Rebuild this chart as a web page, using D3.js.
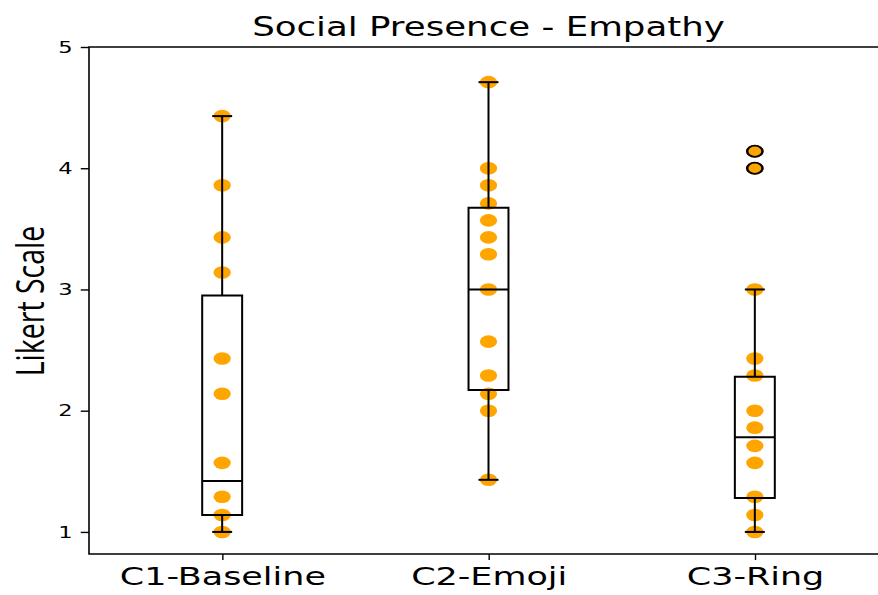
<!DOCTYPE html>
<html>
<head>
<meta charset="utf-8">
<script src="https://cdn.jsdelivr.net/npm/d3@7"></script>
<style>
  body { margin: 0; background: #fff; }
  svg { display: block; }
  .ax text { font-family: "DejaVu Sans", sans-serif; fill: #000; }
  line, rect, path { vector-effect: non-scaling-stroke; }
</style>
</head>
<body>
<svg class="chart"></svg>
<script>
var categories = ['C1-Baseline', 'C2-Emoji', 'C3-Ring'];

// individual responses
var pointsC1 = [4.43, 3.86, 3.43, 3.14, 2.43, 2.14, 1.57, 1.29, 1.14, 1.0];
var pointsC2 = [4.71, 4.0, 3.86, 3.71, 3.57, 3.43, 3.29, 3.0, 2.57, 2.29, 2.14, 2.0, 1.43];
var pointsC3 = [4.14, 4.0, 3.0, 2.43, 2.29, 2.0, 1.86, 1.71, 1.57, 1.29, 1.14, 1.0];

// box statistics per condition
var q1 = [1.14, 2.17, 1.28];
var median = [1.42, 3.0, 1.78];
var q3 = [2.95, 3.675, 2.28];
var whiskerLow = [1.0, 1.43, 1.0];
var whiskerHigh = [4.43, 4.71, 3.0];
var outliers = [[], [], [4.14, 4.0]];

var yTicks = [1, 2, 3, 4, 5];

var width = 878,
    height = 595;

// the reference is stretched sideways, so draw in a narrower space and scale x
let sx = 1.37;

var svg = d3.select('.chart')
    .attr('width', width)
    .attr('height', height);

var g = svg.append('g').attr('transform', `scale(${sx},1)`);

var x = d3.scaleLinear().domain([0.5, 3.5]).range([89 / sx, 888 / sx]);
var y = d3.scaleLinear().domain([0.818, 5]).range([554, 47]);

var groups = [pointsC1, pointsC2, pointsC3];

// scatter of responses
groups.forEach((pts, i) => {
    g.selectAll('circle.dot' + i)
        .data(pts)
        .enter().append('circle')
            .attr('class', 'dot' + i)
            .attr('cx', x(i + 1))
            .attr('cy', d => y(d))
            .attr('r', 6.3)
            .attr('fill', 'orange');
});

var boxW = 0.15,
    capW = 0.075;

var box = g.selectAll('g.box')
    .data(categories)
    .enter().append('g')
        .attr('class', 'box')
        .attr('stroke', '#000')
        .attr('stroke-width', 2)
        .attr('fill', 'none');

box.append('rect')
    .attr('x', (d, i) => x(i + 1 - boxW / 2))
    .attr('width', x(1 + boxW / 2) - x(1 - boxW / 2))
    .attr('y', (d, i) => y(q3[i]))
    .attr('height', (d, i) => y(q1[i]) - y(q3[i]));

box.append('line')
    .attr('x1', (d, i) => x(i + 1 - boxW / 2))
    .attr('x2', (d, i) => x(i + 1 + boxW / 2))
    .attr('y1', (d, i) => y(median[i]))
    .attr('y2', (d, i) => y(median[i]));

// whiskers
box.append('line')
    .attr('x1', (d, i) => x(i + 1)).attr('x2', (d, i) => x(i + 1))
    .attr('y1', (d, i) => y(q3[i])).attr('y2', (d, i) => y(whiskerHigh[i]));
box.append('line')
    .attr('x1', (d, i) => x(i + 1)).attr('x2', (d, i) => x(i + 1))
    .attr('y1', (d, i) => y(q1[i])).attr('y2', (d, i) => y(whiskerLow[i]));

// caps
box.append('line')
    .attr('x1', (d, i) => x(i + 1 - capW / 2)).attr('x2', (d, i) => x(i + 1 + capW / 2))
    .attr('y1', (d, i) => y(whiskerHigh[i])).attr('y2', (d, i) => y(whiskerHigh[i]));
box.append('line')
    .attr('x1', (d, i) => x(i + 1 - capW / 2)).attr('x2', (d, i) => x(i + 1 + capW / 2))
    .attr('y1', (d, i) => y(whiskerLow[i])).attr('y2', (d, i) => y(whiskerLow[i]));

// fliers
outliers.forEach((pts, i) => {
    g.selectAll('circle.flier' + i)
        .data(pts)
        .enter().append('circle')
            .attr('class', 'flier' + i)
            .attr('cx', x(i + 1))
            .attr('cy', d => y(d))
            .attr('r', 5.6)
            .attr('fill', 'none')
            .attr('stroke', '#000')
            .attr('stroke-width', 1.8);
});

// axes
var yAxis = g.append('g')
    .attr('class', 'ax')
    .attr('transform', `translate(${x(0.5)},0)`)
    .call(d3.axisLeft(y).tickValues(yTicks).tickSize(6).tickPadding(6)
        .tickFormat(d3.format('d')));
yAxis.selectAll('text').style('font-size', '16.5px');

var xAxis = g.append('g')
    .attr('class', 'ax')
    .attr('transform', `translate(0,${y(0.818)})`)
    .call(d3.axisBottom(x).tickValues([1, 2, 3]).tickSize(6).tickPadding(7)
        .tickFormat(d => categories[d - 1]));
xAxis.selectAll('text').style('font-size', '25.5px');

g.selectAll('.ax .domain').remove();
g.selectAll('.ax line').attr('stroke-width', 1.4);

// spines
g.append('rect')
    .attr('x', x(0.5))
    .attr('y', y(5))
    .attr('width', x(3.5) - x(0.5))
    .attr('height', y(0.818) - y(5))
    .attr('fill', 'none')
    .attr('stroke', '#000')
    .attr('stroke-width', 1.6);

g.append('text')
    .attr('x', (x(0.5) + x(3.5)) / 2)
    .attr('y', 36)
    .attr('text-anchor', 'middle')
    .style('font-family', '"DejaVu Sans", sans-serif')
    .style('font-size', '26px')
    .text('Social Presence - Empathy');

g.append('text')
    .attr('transform', `translate(${44 / sx},301) rotate(-90)`)
    .attr('text-anchor', 'middle')
    .style('font-family', '"Open Sans", sans-serif')
    .style('font-size', '28.5px')
    .text('Likert Scale');
</script>
</body>
</html>
